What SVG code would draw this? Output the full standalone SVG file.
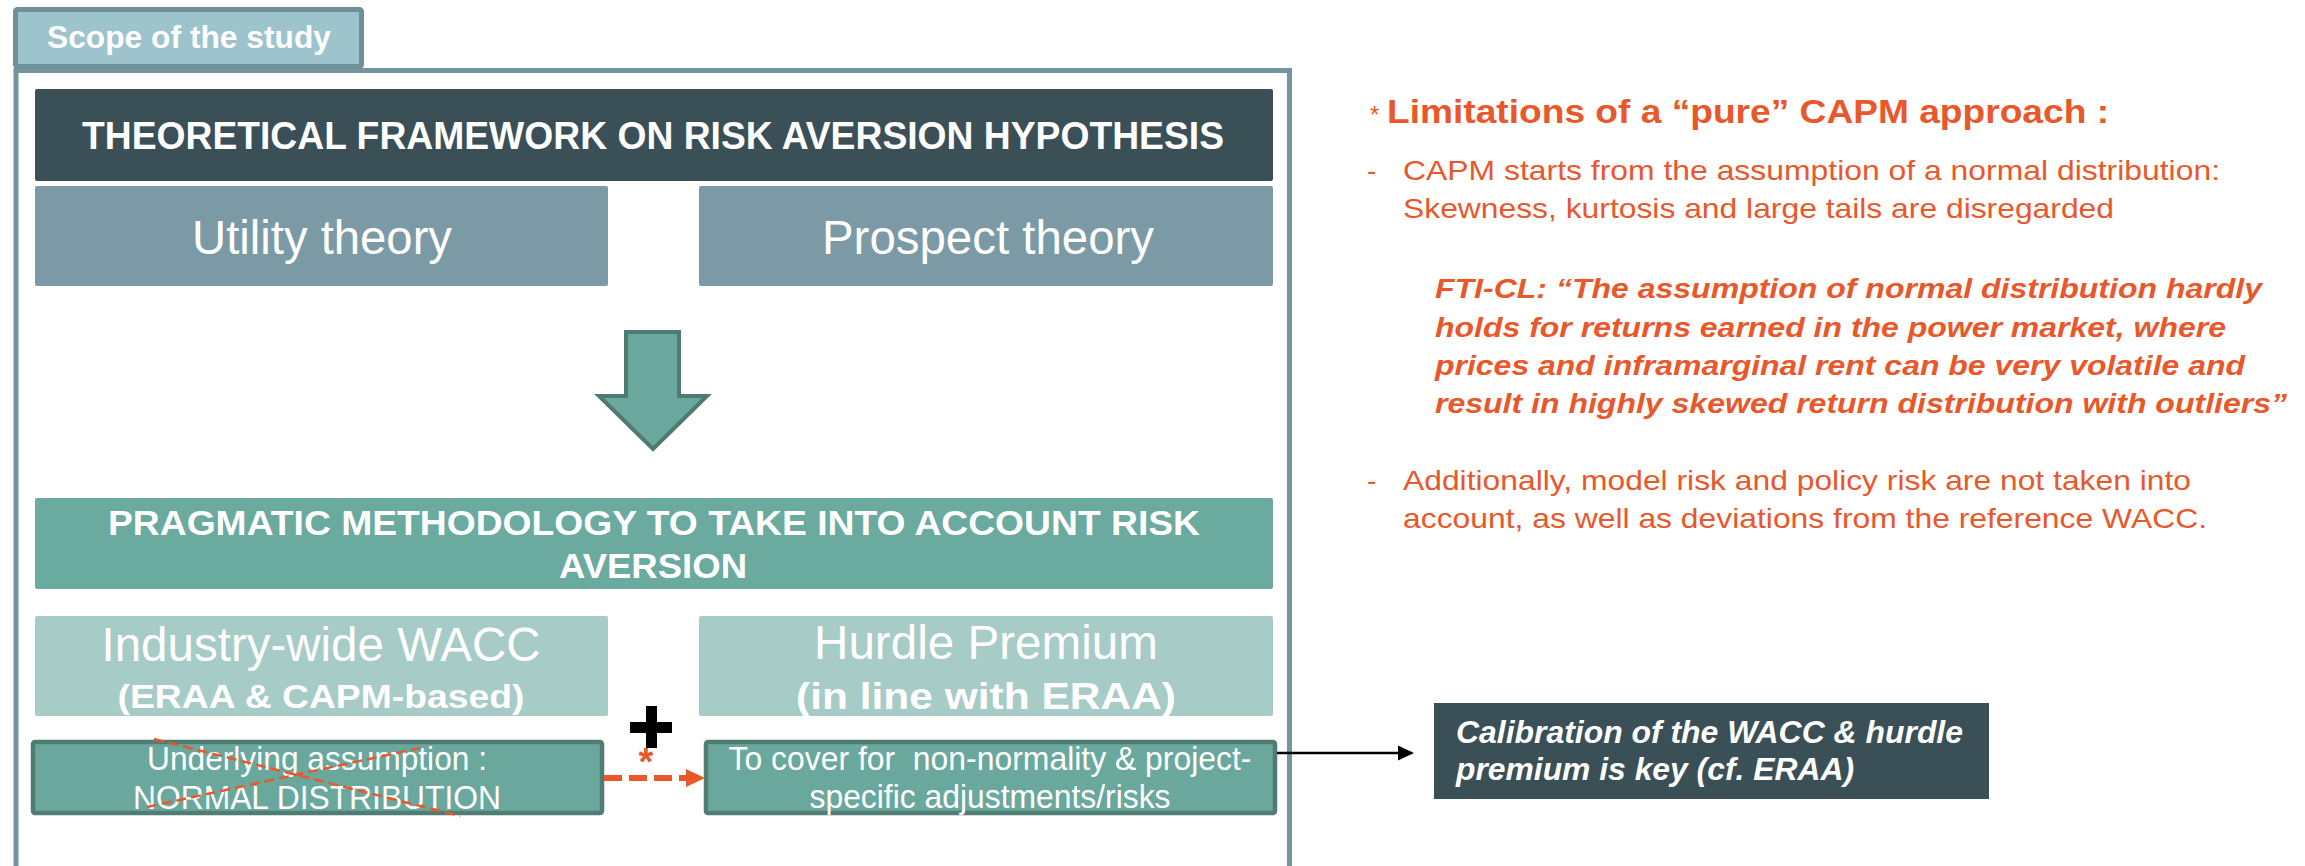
<svg xmlns="http://www.w3.org/2000/svg" width="2305" height="866" viewBox="0 0 2305 866">
<defs>
<style>
.n{font-family:"Liberation Sans Narrow","Liberation Sans",Arial,sans-serif;white-space:pre;}
.w{fill:#FFFFFF;}
.o{fill:#E9582B;}
.b{font-weight:bold;}
.i{font-style:italic;}
.c{text-anchor:middle;}
</style>
</defs>
<rect width="2305" height="866" fill="#FFFFFF"/>

<g id="scope-frame">
<path d="M16,870 L16,70.5 L1289.5,70.5 L1289.5,870" fill="none" stroke="#7495A0" stroke-width="5"/>
</g>
<g id="scope-tab">
<rect x="15.5" y="9.5" width="346" height="57" rx="2" fill="#9DC3CD" stroke="#6F9099" stroke-width="5"/>
<text x="47" y="48" font-family="'Liberation Sans',Arial,sans-serif" font-size="31" class="w b" textLength="284" lengthAdjust="spacingAndGlyphs">Scope of the study</text>
</g>

<g id="theoretical">
<rect x="35" y="89" width="1238" height="92" rx="2" fill="#3B4F57"/>
<text x="653" y="149" font-size="38" class="n w b c" textLength="1142" lengthAdjust="spacingAndGlyphs">THEORETICAL FRAMEWORK ON RISK AVERSION HYPOTHESIS</text>
</g>
<g id="utility">
<rect x="35" y="186" width="573" height="100" rx="2" fill="#7B9AA5"/>
<text x="322" y="254" font-size="48" class="n w c" textLength="260" lengthAdjust="spacingAndGlyphs">Utility theory</text>
</g>
<g id="prospect">
<rect x="699" y="186" width="574" height="100" rx="2" fill="#7B9AA5"/>
<text x="988" y="254" font-size="48" class="n w c" textLength="332" lengthAdjust="spacingAndGlyphs">Prospect theory</text>
</g>

<g id="down-arrow">
<polygon points="626,332 679,332 679,396 707,396 653,449 599,396 626,396" fill="#6AA89E" stroke="#4E7A72" stroke-width="4" stroke-linejoin="miter"/>
</g>

<g id="pragmatic">
<rect x="35" y="498" width="1238" height="91" rx="2" fill="#6AAA9F"/>
<text x="654" y="535" font-size="35" class="n w b c" textLength="1092" lengthAdjust="spacingAndGlyphs">PRAGMATIC METHODOLOGY TO TAKE INTO ACCOUNT RISK</text>
<text x="653" y="578" font-size="35" class="n w b c" textLength="188" lengthAdjust="spacingAndGlyphs">AVERSION</text>
</g>

<g id="industry-wacc">
<rect x="35" y="616" width="573" height="100" rx="2" fill="#A7CBC6"/>
<text x="321" y="661" font-size="48" class="n w c" textLength="439" lengthAdjust="spacingAndGlyphs">Industry-wide WACC</text>
<text x="321" y="708" font-size="33" class="n w b c" textLength="407" lengthAdjust="spacingAndGlyphs">(ERAA &amp; CAPM-based)</text>
</g>
<g id="hurdle-premium">
<rect x="699" y="616" width="574" height="100" rx="2" fill="#A7CBC6"/>
<text x="986" y="659" font-size="48" class="n w c" textLength="344" lengthAdjust="spacingAndGlyphs">Hurdle Premium</text>
<text x="986" y="709" font-size="36" class="n w b c" textLength="380" lengthAdjust="spacingAndGlyphs">(in line with ERAA)</text>
</g>

<g id="plus">
<rect x="630" y="722" width="42" height="11" fill="#000"/>
<rect x="646" y="706" width="11" height="42" fill="#000"/>
</g>

<g id="underlying">
<rect x="33" y="742" width="569" height="71" rx="2" fill="#6AA89E" stroke="#4F7D74" stroke-width="4.5"/>
<text x="317" y="770" font-size="33" class="n w c" textLength="340" lengthAdjust="spacingAndGlyphs">Underlying assumption :</text>
<text x="317" y="809" font-size="33" class="n w c" textLength="368" lengthAdjust="spacingAndGlyphs">NORMAL DISTRIBUTION</text>
<line x1="154" y1="739" x2="460" y2="816" stroke="#E9582B" stroke-width="2.5" stroke-dasharray="10,5"/>
<line x1="147" y1="807" x2="420" y2="748" stroke="#E9582B" stroke-width="2.5" stroke-dasharray="10,5"/>
</g>

<g id="to-cover">
<rect x="706" y="742" width="569" height="71" rx="2" fill="#6AA89E" stroke="#4F7D74" stroke-width="4.5"/>
<text x="990" y="770" font-size="33" class="n w c" textLength="523" lengthAdjust="spacingAndGlyphs" xml:space="preserve">To cover for  non-normality &amp; project-</text>
<text x="990" y="808" font-size="33" class="n w c" textLength="361" lengthAdjust="spacingAndGlyphs">specific adjustments/risks</text>
</g>

<g id="asterisk">
<text x="646" y="775" font-size="38" class="n o b c">*</text>
</g>

<g id="calibration">
<rect x="1434" y="703" width="555" height="96" fill="#3B4F57"/>
<text x="1456" y="743" font-size="31" class="n w b i" textLength="507" lengthAdjust="spacingAndGlyphs">Calibration of the WACC &amp; hurdle</text>
<text x="1456" y="780" font-size="31" class="n w b i" textLength="398" lengthAdjust="spacingAndGlyphs">premium is key (cf. ERAA)</text>
</g>

<g id="limitations">
<text x="1370" y="123" font-size="24" class="n o">*</text>
<text x="1387" y="123" font-size="33" class="n o b" textLength="722" lengthAdjust="spacingAndGlyphs">Limitations of a “pure” CAPM approach :</text>
<text x="1367" y="180" font-size="28" class="n o">-</text>
<text x="1403" y="180" font-size="28" class="n o" textLength="817" lengthAdjust="spacingAndGlyphs">CAPM starts from the assumption of a normal distribution:</text>
<text x="1403" y="218" font-size="28" class="n o" textLength="711" lengthAdjust="spacingAndGlyphs">Skewness, kurtosis and large tails are disregarded</text>
<text x="1435" y="298" font-size="28" class="n o b i" textLength="827" lengthAdjust="spacingAndGlyphs">FTI-CL: “The assumption of normal distribution hardly</text>
<text x="1435" y="337" font-size="28" class="n o b i" textLength="791" lengthAdjust="spacingAndGlyphs">holds for returns earned in the power market, where</text>
<text x="1435" y="375" font-size="28" class="n o b i" textLength="810" lengthAdjust="spacingAndGlyphs">prices and inframarginal rent can be very volatile and</text>
<text x="1435" y="413" font-size="28" class="n o b i" textLength="852" lengthAdjust="spacingAndGlyphs">result in highly skewed return distribution with outliers”</text>
<text x="1367" y="490" font-size="28" class="n o">-</text>
<text x="1403" y="490" font-size="28" class="n o" textLength="788" lengthAdjust="spacingAndGlyphs">Additionally, model risk and policy risk are not taken into</text>
<text x="1403" y="528" font-size="28" class="n o" textLength="804" lengthAdjust="spacingAndGlyphs">account, as well as deviations from the reference WACC.</text>
</g>

<g id="connectors">
<line x1="604" y1="778" x2="688" y2="778" stroke="#E9582B" stroke-width="6" stroke-dasharray="18,7"/>
<polygon points="686,769 705,778 686,787" fill="#E9582B"/>
<line x1="1277" y1="753" x2="1400" y2="753" stroke="#000" stroke-width="2.5"/>
<polygon points="1398,745.5 1414,753 1398,760.5" fill="#000"/>
</g>
</svg>
